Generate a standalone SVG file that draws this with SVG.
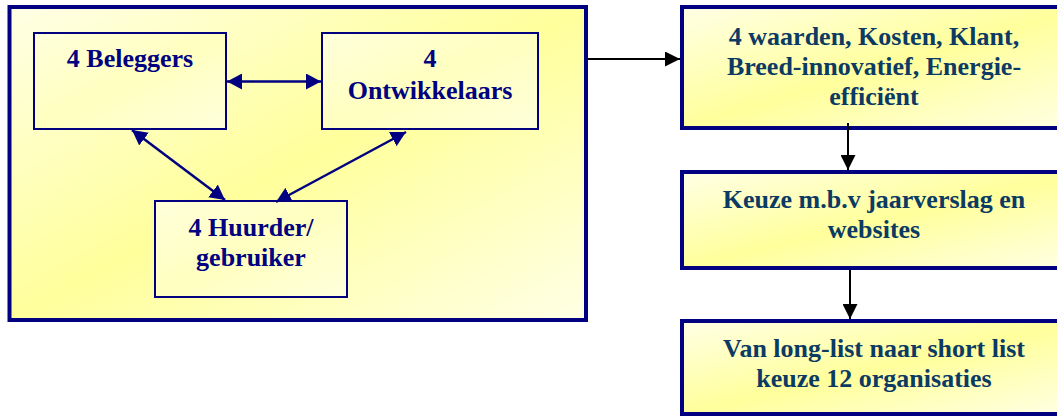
<svg xmlns="http://www.w3.org/2000/svg" width="1057" height="417" viewBox="0 0 1057 417">
  <style>
    .outer { stroke: #000080; stroke-width: 4; fill: url(#gOuter); }
    .inner { stroke: #000080; stroke-width: 2; fill: url(#gInner); }
    .step { stroke: #000080; stroke-width: 4; fill: url(#gOuter); }
    text { font-family: 'Liberation Serif', Tinos, 'DejaVu Serif', serif; font-weight: bold; font-size: 26px; text-anchor: middle; }
    .lt { fill: #000080; }
    .rt { fill: #0b3a63; }
    .navy { stroke: #000080; stroke-width: 2.5; fill: none; }
    .black { stroke: #000000; stroke-width: 2; fill: none; }
  </style>
  <defs>
    <linearGradient id="gOuter" x1="0" y1="0" x2="1" y2="1">
      <stop offset="0" stop-color="#ffffe6"/>
      <stop offset="0.5" stop-color="#ffff9c"/>
      <stop offset="1" stop-color="#ffffe6"/>
    </linearGradient>
    <linearGradient id="gInner" x1="0" y1="0" x2="1" y2="1">
      <stop offset="0" stop-color="#ffffdc"/>
      <stop offset="0.5" stop-color="#ffffc0"/>
      <stop offset="1" stop-color="#ffffdc"/>
    </linearGradient>
    <marker id="an" viewBox="0 0 15 16" refX="15" refY="8" markerWidth="15" markerHeight="16" markerUnits="userSpaceOnUse" orient="auto-start-reverse">
      <path d="M0,0 L15,8 L0,16 Z" fill="#000080"/>
    </marker>
    <marker id="ab" viewBox="0 0 15 15" refX="15" refY="7.5" markerWidth="15" markerHeight="15" markerUnits="userSpaceOnUse" orient="auto">
      <path d="M0,0 L15,7.5 L0,15 Z" fill="#000000"/>
    </marker>
  </defs>

  <g id="group-box">
    <rect class="outer" x="9.5" y="7" width="576.5" height="313"/>
  </g>
  <g id="beleggers">
    <rect class="inner" x="34" y="33" width="192" height="96"/>
    <text class="lt" x="130" y="67" font-family="Liberation Serif">4 Beleggers</text>
  </g>
  <g id="ontwikkelaars">
    <rect class="inner" x="322" y="33" width="216" height="96"/>
    <text class="lt" x="430" y="67" font-family="Liberation Serif">4</text>
    <text class="lt" x="430" y="99" font-family="Liberation Serif">Ontwikkelaars</text>
  </g>
  <g id="huurder">
    <rect class="inner" x="155" y="201" width="192" height="96"/>
    <text class="lt" x="251" y="236" font-family="Liberation Serif">4 Huurder/</text>
    <text class="lt" x="251" y="266" font-family="Liberation Serif">gebruiker</text>
  </g>

  <g id="criteria">
    <rect class="step" x="682" y="7" width="400" height="121"/>
    <text class="rt" x="874" y="45" font-family="Liberation Serif">4 waarden, Kosten, Klant,</text>
    <text class="rt" x="874" y="75" font-family="Liberation Serif">Breed-innovatief, Energie-</text>
    <text class="rt" x="874" y="105" font-family="Liberation Serif">efficiënt</text>
  </g>
  <g id="keuze">
    <rect class="step" x="682" y="172" width="400" height="96"/>
    <text class="rt" x="874" y="208" font-family="Liberation Serif">Keuze m.b.v jaarverslag en</text>
    <text class="rt" x="874" y="238" font-family="Liberation Serif">websites</text>
  </g>
  <g id="shortlist">
    <rect class="step" x="682" y="321" width="400" height="93"/>
    <text class="rt" x="874" y="357" font-family="Liberation Serif">Van long-list naar short list</text>
    <text class="rt" x="874" y="387" font-family="Liberation Serif">keuze 12 organisaties</text>
  </g>

  <g id="connectors">
    <line class="navy" x1="227" y1="81.5" x2="321" y2="81.5" marker-start="url(#an)" marker-end="url(#an)"/>
    <line class="navy" x1="132" y1="130" x2="225" y2="200" marker-start="url(#an)" marker-end="url(#an)"/>
    <line class="navy" x1="406" y1="132" x2="276" y2="202" marker-start="url(#an)" marker-end="url(#an)"/>
    <line class="black" x1="588" y1="59" x2="680" y2="59" marker-end="url(#ab)"/>
    <line class="black" x1="848" y1="123" x2="848" y2="170" marker-end="url(#ab)"/>
    <line class="black" x1="850" y1="270" x2="850" y2="319" marker-end="url(#ab)"/>
  </g>
</svg>
